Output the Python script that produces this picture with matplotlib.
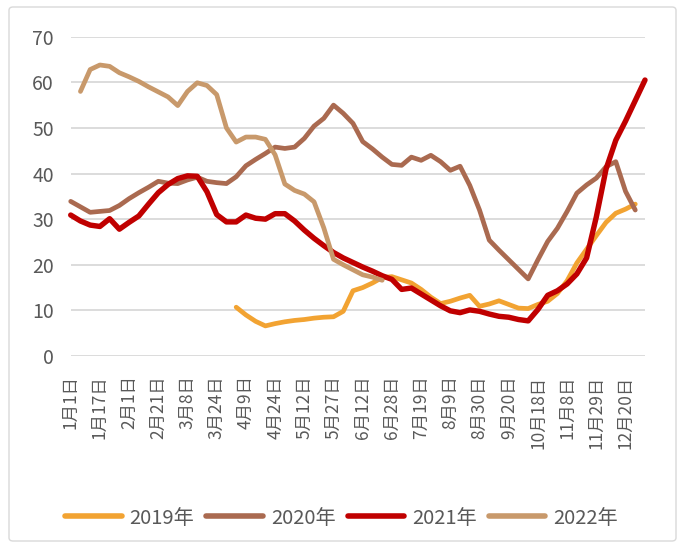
import numpy as np
import matplotlib
matplotlib.use("Agg")
import matplotlib.pyplot as plt
from matplotlib.patches import FancyBboxPatch
from matplotlib.lines import Line2D

plt.rcParams['font.family'] = ['Noto Sans CJK SC', 'DejaVu Sans']

# ---- data ----
n_points = 60
tick_labels = ["1月1日", "1月17日", "2月1日", "2月21日", "3月8日", "3月24日", "4月9日",
               "4月24日", "5月12日", "5月27日", "6月12日", "6月28日", "7月19日", "8月9日",
               "8月30日", "9月20日", "10月18日", "11月8日", "11月29日", "12月20日"]

s2019 = [None] * 17 + [10.7, 9.0, 7.6, 6.6, 7.1, 7.5, 7.8, 8.0, 8.3, 8.5, 8.6, 9.8, 14.3, 15.0,
                       16.0, 17.2, 17.4, 16.7, 16.0, 14.6, 12.9, 11.5, 12.0, 12.7, 13.3, 10.9,
                       11.4, 12.1, 11.3, 10.5, 10.4, 11.3, 12.0, 13.7, 16.5, 20.4, 23.4, 26.4,
                       29.3, 31.3, 32.2, 33.3] + [None]
s2020 = [33.9, 32.7, 31.5, 31.7, 31.9, 33.0, 34.5, 35.8, 37.0, 38.3, 37.9, 37.8, 38.6, 39.2,
         38.3, 38.0, 37.8, 39.3, 41.7, 43.1, 44.4, 45.8, 45.5, 45.8, 47.7, 50.4, 52.1, 55.0,
         53.2, 51.0, 47.0, 45.4, 43.6, 42.0, 41.8, 43.6, 42.9, 44.0, 42.6, 40.7, 41.6, 37.4,
         32.0, 25.4, 23.2, 21.1, 19.0, 16.9, 21.1, 25.1, 28.0, 31.7, 35.7, 37.5, 39.0, 41.5,
         42.6, 36.1, 32.0, None]
s2021 = [30.9, 29.6, 28.7, 28.4, 30.1, 27.8, 29.3, 30.7, 33.3, 35.8, 37.6, 38.9, 39.5, 39.4,
         36.0, 31.0, 29.4, 29.4, 30.9, 30.2, 30.0, 31.2, 31.2, 29.6, 27.6, 25.8, 24.2, 22.7,
         21.5, 20.5, 19.5, 18.6, 17.6, 16.8, 14.6, 14.9, 13.6, 12.3, 11.0, 9.9, 9.5, 10.1,
         9.8, 9.2, 8.7, 8.5, 8.0, 7.7, 10.2, 13.3, 14.3, 15.8, 18.0, 21.5, 30.5, 41.0, 47.3,
         51.5, 56.0, 60.5]
s2022 = [None] + [58.0, 62.8, 63.8, 63.5, 62.1, 61.2, 60.2, 59.0, 57.9, 56.8, 54.9, 58.0, 59.9,
                  59.3, 57.3, 50.0, 46.9, 48.0, 48.0, 47.5, 44.1, 37.7, 36.3, 35.5, 33.8, 28.1,
                  21.2, 20.0, 18.9, 17.8, 17.3, 16.6] + [None] * 27

series_names = ["2019年", "2020年", "2021年", "2022年"]
series_values = [s2019, s2020, s2021, s2022]
colors = ["#F2A332", "#AA6A50", "#C00000", "#C8996B"]
widths = [3.4, 3.4, 3.9, 3.4]

# ---- figure ----
W, H = 683, 548
fig = plt.figure(figsize=(W / 100, H / 100), dpi=100)
fig.patch.set_facecolor("white")

border = FancyBboxPatch((9 / W, 7 / H), (676 - 9) / W, (541 - 7) / H,
                        boxstyle="round,pad=0,rounding_size=0.006",
                        transform=fig.transFigure, fill=False,
                        edgecolor="#D9D9D9", linewidth=1.0)
fig.patches.append(border)

left, right, top, bottom = 70.7, 645, 36.7, 356
ax = fig.add_axes([left / W, (H - bottom) / H, (right - left) / W, (bottom - top) / H])

x = np.arange(n_points)
for name, vals, c, lw in zip(series_names, series_values, colors, widths):
    y = np.array([np.nan if v is None else v for v in vals], dtype=float)
    ax.plot(x, y, color=c, lw=lw, solid_joinstyle="round", solid_capstyle="round",
            label=name, clip_on=False)

ax.set_xlim(0, n_points - 1)
ax.set_ylim(0, 70)
ax.set_yticks(np.arange(0, 71, 10))
ax.set_xticks(np.arange(0, n_points, 3))
ax.set_xticklabels(tick_labels, rotation=90, fontsize=12.5, color="#595959")
ax.tick_params(axis="x", length=0, pad=14)
ax.tick_params(axis="y", length=0, pad=12, labelsize=14, labelcolor="#595959")
ax.yaxis.grid(True, color="#D9D9D9", lw=1.3)
ax.set_axisbelow(True)
for sp in ax.spines.values():
    sp.set_visible(False)

handles = [Line2D([], [], color=c, lw=4, solid_capstyle="round") for c in colors]
leg = fig.legend(handles, series_names, loc="center", bbox_to_anchor=(0.5, (H - 518) / H),
                 ncol=4, frameon=False, fontsize=14.5, handlelength=2.8,
                 handletextpad=0.4, columnspacing=0.6)
for t in leg.get_texts():
    t.set_color("#595959")

fig.savefig("out.png", dpi=100, facecolor="white")
